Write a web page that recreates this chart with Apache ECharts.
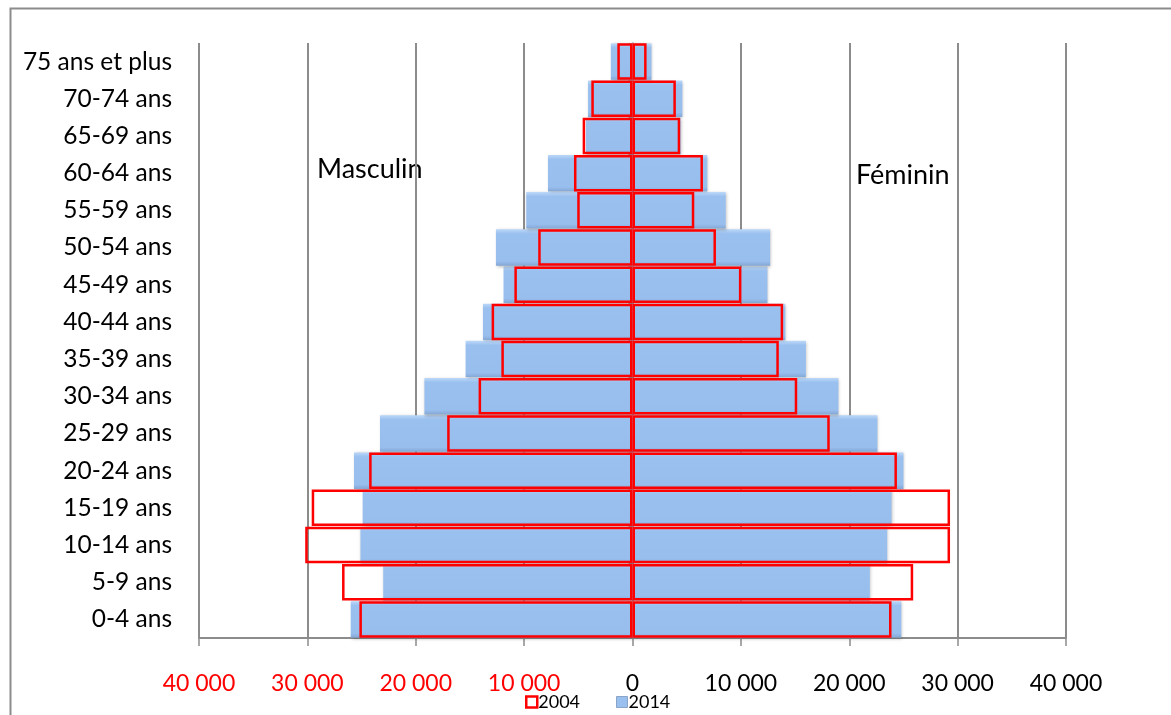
<!DOCTYPE html>
<html>
<head>
<meta charset="utf-8">
<script src="https://cdn.jsdelivr.net/npm/echarts@6/dist/echarts.min.js"></script>
<style>html,body{margin:0;padding:0;background:#fff}#c{width:1171px;height:715px}</style>
</head>
<body>
<div id="c"></div>
<script>
const categories = ['0-4 ans','5-9 ans','10-14 ans','15-19 ans','20-24 ans','25-29 ans','30-34 ans','35-39 ans','40-44 ans','45-49 ans','50-54 ans','55-59 ans','60-64 ans','65-69 ans','70-74 ans','75 ans et plus'];
const male2014   = [26000, 23000, 25100, 24900, 25700, 23300, 19200, 15400, 13800, 11900, 12600, 9800, 7800, 4300, 4100, 2000];
const female2014 = [24800, 21900, 23500, 23900, 25000, 22600, 19000, 16000, 14100, 12450, 12700, 8600, 6900, 4450, 4600, 1750];
const male2004   = [25200, 26800, 30200, 29600, 24300, 17100, 14200, 12100, 13000, 10900, 8700, 5100, 5400, 4600, 3800, 1400];
const female2004 = [23900, 25900, 29300, 29300, 24400, 18200, 15200, 13500, 13900, 10050, 7700, 5700, 6500, 4400, 4000, 1300];
const xTicks = [-40000,-30000,-20000,-10000,0,10000,20000,30000,40000];

const FONT = 'Lato,"Open Sans",sans-serif';
const blue = '#9ac0ef';
const blueStyle = {
  color: new echarts.graphic.LinearGradient(0,0,0,1,[
    {offset:0,color:'#bcd8f8'},{offset:0.12,color:'#9ac0ef'},{offset:0.88,color:'#98beee'},{offset:1,color:'#84a7d4'}]),
  shadowColor:'rgba(0,0,0,0.25)', shadowBlur:3, shadowOffsetX:1, shadowOffsetY:1
};
const redStyle = {color:'rgba(0,0,0,0)', borderColor:'#ff0000', borderWidth:2.5};

const chart = echarts.init(document.getElementById('c'));
chart.setOption({
  animation:false,
  grid:{left:199, right:105, top:43, bottom:77},
  xAxis:{
    type:'value', min:-40000, max:40000, interval:10000,
    axisLine:{show:true, lineStyle:{color:'#8c8c8c', width:2}},
    axisTick:{show:true, length:8, lineStyle:{color:'#8c8c8c', width:1.5}},
    splitLine:{show:true, lineStyle:{color:'#8c8c8c', width:2}},
    axisLabel:{
      margin:34, fontSize:23, fontFamily:FONT,
      formatter:function(v){
        const a = Math.abs(v);
        return a===0 ? '0' : (a/1000)+' 000';
      },
      color:function(v){ return Number(v) < 0 ? '#ff0000' : '#000'; }
    }
  },
  yAxis:[{
    type:'category', data:categories, position:'left',
    axisLine:{show:false, onZero:false}, axisTick:{show:false},
    axisLabel:{fontSize:24.5, fontFamily:FONT, color:'#000', margin:27}
  },{
    type:'category', data:categories,
    axisLine:{show:true, onZero:true, lineStyle:{color:'#8c8c8c', width:1.5}},
    axisTick:{show:true, length:4, inside:true, lineStyle:{color:'#8c8c8c'}},
    axisLabel:{show:false}
  }],
  legend:{
    top:688, left:520, itemGap:36, itemWidth:11, itemHeight:11,
    textStyle:{fontSize:18, fontFamily:FONT, color:'#000', padding:[0,0,0,-4]},
    data:[
      {name:'2004', icon:'rect', itemStyle:{color:'#fff', borderColor:'#ff0000', borderWidth:2.5}},
      {name:'2014', icon:'rect', itemStyle:{color:blue, borderColor:'#8aa4c8', borderWidth:1}}
    ]
  },
  graphic:[{type:'rect', left:8, top:6, shape:{width:1200, height:760}, style:{fill:'none', stroke:'#8c8c8c', lineWidth:2}, silent:true},
    {type:'text', left:317, top:156, style:{text:'Masculin', font:'27px '+FONT, fill:'#000'}},
    {type:'text', left:856, top:162, style:{text:'Féminin', font:'27px '+FONT, fill:'#000'}}
  ],
  series:[
    {name:'2014', type:'bar', stack:'y2014', data:male2014.map(v=>-v), barCategoryGap:'2%', barGap:'-100%', itemStyle:blueStyle, z:2},
    {name:'2014', type:'bar', stack:'y2014', data:female2014, itemStyle:blueStyle, z:2},
    {name:'2004', type:'bar', stack:'y2004', data:male2004.map(v=>-v), barCategoryGap:'2%', itemStyle:redStyle, z:4},
    {name:'2004', type:'bar', stack:'y2004', data:female2004, itemStyle:redStyle, z:4}
  ]
});
</script>
</body>
</html>
